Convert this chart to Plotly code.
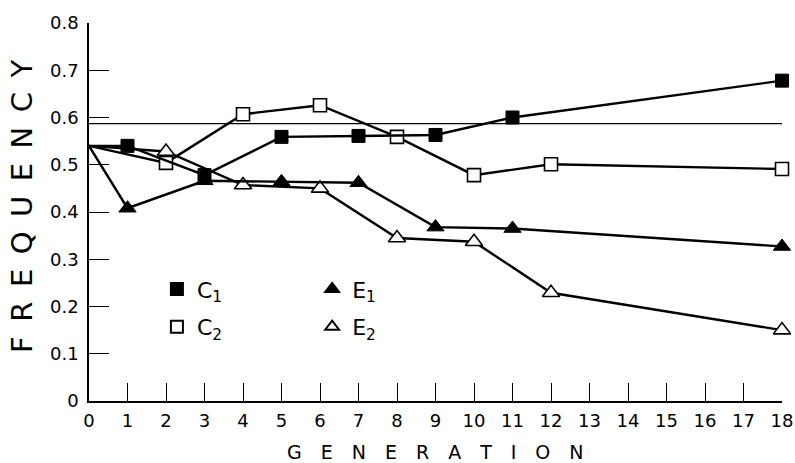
import plotly.graph_objects as go

generations_c1 = [0, 1, 3, 5, 7, 9, 11, 18]
freq_c1 = [0.54, 0.54, 0.478, 0.559, 0.561, 0.563, 0.600, 0.678]

generations_c2 = [0, 2, 4, 6, 8, 10, 12, 18]
freq_c2 = [0.54, 0.504, 0.607, 0.626, 0.559, 0.478, 0.501, 0.491]

generations_e1 = [0, 1, 3, 5, 7, 9, 11, 18]
freq_e1 = [0.54, 0.408, 0.466, 0.464, 0.462, 0.368, 0.365, 0.327]

generations_e2 = [0, 2, 4, 6, 8, 10, 12, 18]
freq_e2 = [0.54, 0.528, 0.457, 0.450, 0.345, 0.337, 0.229, 0.150]

reference_level = 0.587
x_ticks = list(range(0, 19))
y_ticks = [0, 0.1, 0.2, 0.3, 0.4, 0.5, 0.6, 0.7, 0.8]
y_tick_labels = ["0", "0.1", "0.2", "0.3", "0.4", "0.5", "0.6", "0.7", "0.8"]

FONT = "DejaVu Sans"
fig = go.Figure()

line_style = dict(color="black", width=2.4)


def sizes(xs, s):
    # the common starting point at generation 0 is drawn without a marker
    return [0 if x == 0 else s for x in xs]


fig.add_trace(go.Scatter(x=generations_e2, y=freq_e2, mode="lines+markers",
                         line=line_style, showlegend=False, cliponaxis=False,
                         marker=dict(symbol="triangle-up", size=sizes(generations_e2, 15),
                                     color="white", opacity=1,
                                     line=dict(color="black", width=1.6))))
fig.add_trace(go.Scatter(x=generations_e1, y=freq_e1, mode="lines+markers",
                         line=line_style, showlegend=False, cliponaxis=False,
                         marker=dict(symbol="triangle-up", size=sizes(generations_e1, 15),
                                     color="black", opacity=1,
                                     line=dict(color="black", width=1))))
fig.add_trace(go.Scatter(x=generations_c2, y=freq_c2, mode="lines+markers",
                         line=line_style, showlegend=False, cliponaxis=False,
                         marker=dict(symbol="square", size=sizes(generations_c2, 13),
                                     color="white", opacity=1,
                                     line=dict(color="black", width=1.6))))
fig.add_trace(go.Scatter(x=generations_c1, y=freq_c1, mode="lines+markers",
                         line=line_style, showlegend=False, cliponaxis=False,
                         marker=dict(symbol="square", size=sizes(generations_c1, 13),
                                     color="black", opacity=1,
                                     line=dict(color="black", width=1))))

# legend-only entries
legend_items = [
    ("C<sub>1</sub>", "square", "black", "legend"),
    ("C<sub>2</sub>", "square", "white", "legend2"),
    ("E<sub>1</sub>", "triangle-up", "black", "legend3"),
    ("E<sub>2</sub>", "triangle-up", "white", "legend4"),
]
for name, sym, col, lg in legend_items:
    fig.add_trace(go.Scatter(x=[None], y=[None], mode="markers", name=name, legend=lg,
                             marker=dict(symbol=sym, size=14, color=col,
                                         line=dict(color="black", width=1.4))))

fig.add_shape(type="line", xref="x", yref="y", x0=x_ticks[0], x1=x_ticks[-1],
              y0=reference_level, y1=reference_level,
              line=dict(color="black", width=1.2))

legend_font = dict(family=FONT, size=22, color="black")
common_leg = dict(font=legend_font, bgcolor="rgba(0,0,0,0)", borderwidth=0,
                  itemsizing="constant", xanchor="left", yanchor="middle")

fig.update_layout(
    width=795, height=463,
    margin=dict(l=89, r=13, t=23, b=62, autoexpand=False),
    paper_bgcolor="white", plot_bgcolor="white",
    font=dict(family=FONT, color="black"),
    legend=dict(x=0.098, y=0.296, **common_leg),
    legend2=dict(x=0.098, y=0.196, **common_leg),
    legend3=dict(x=0.322, y=0.296, **common_leg),
    legend4=dict(x=0.322, y=0.196, **common_leg),
    xaxis=dict(range=[0, 18], tickmode="array", tickvals=x_ticks,
               ticktext=[str(t) for t in x_ticks], automargin=False,
               showgrid=False, zeroline=False, showline=True,
               linecolor="black", linewidth=1.6,
               ticks="inside", ticklen=18, tickwidth=1.4, tickcolor="black",
               ticklabelstandoff=3,
               tickfont=dict(family=FONT, size=18, color="black")),
    yaxis=dict(range=[0, 0.8], tickmode="array", tickvals=y_ticks,
               ticktext=y_tick_labels, automargin=False,
               showgrid=False, zeroline=False, showline=True,
               linecolor="black", linewidth=1.6,
               ticks="inside", ticklen=20, tickwidth=1.4, tickcolor="black",
               ticklabelstandoff=5,
               tickfont=dict(family=FONT, size=18, color="black")),
    annotations=[
        dict(text="F\u2002R\u2002E\u2002Q\u2002U\u2002E\u2002N\u2002C\u2002Y",
             xref="paper", yref="paper",
             x=-0.0967, y=0.516, xanchor="center", yanchor="middle",
             textangle=-90, showarrow=False,
             font=dict(family=FONT, size=29, color="black")),
        dict(text="G\u2003E\u2003N\u2003E\u2003R\u2003A\u2003T\u2003I\u2003O\u2003N",
             xref="paper", yref="paper",
             x=0.5, y=-0.1336, xanchor="center", yanchor="middle",
             showarrow=False,
             font=dict(family=FONT, size=19, color="black")),
    ],
)

fig.write_html("out.html", config={"displayModeBar": False},
               post_script="document.body.style.margin='0px';")
